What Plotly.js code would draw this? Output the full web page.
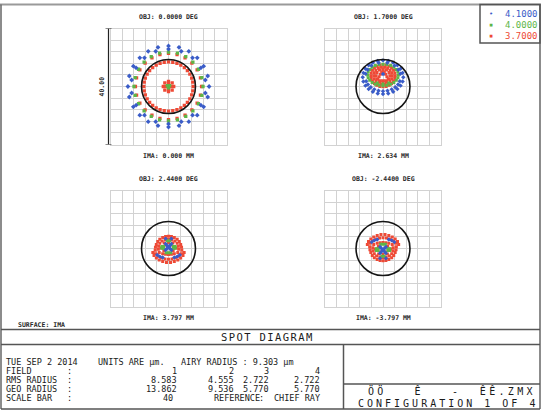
<!DOCTYPE html>
<html><head><meta charset="utf-8">
<script src="https://cdn.plot.ly/plotly-3.0.1.min.js"></script>
<style>html,body{margin:0;padding:0;background:#fff;}#chart{width:541px;height:410px;}</style>
</head><body><div id="chart"></div>
<script>
// ---------- data ----------
const wavelengths = ['4.1000', '4.0000', '3.7000'];
const fieldObj = ['OBJ: 0.0000 DEG', 'OBJ: 1.7000 DEG', 'OBJ: 2.4400 DEG', 'OBJ: -2.4400 DEG'];
const fieldIma = ['IMA: 0.000 MM', 'IMA: 2.634 MM', 'IMA: 3.797 MM', 'IMA: -3.797 MM'];
const fieldNumbers = ['1', '2', '3', '4'];
const rmsRadius = ['8.583', '4.555', '2.722', '2.722'];
const geoRadius = ['13.862', '9.536', '5.770', '5.770'];
const airyRadius = 9.303;
const scaleBar = 40;

// Field 1 (0.0 deg)
const field1BlueX = [14,13.52,12.12,9.9,7,3.62,0,-3.62,-7,-9.9,-12.12,-13.52,-14,-13.52,-12.12,-9.9,-7,-3.62,0,3.62,7,9.9,12.12,13.52,
  12.70,11.17,8.29,4.41,0,-4.41,-8.29,-11.17,-12.70,-12.70,-11.17,-8.29,-4.41,0,4.41,8.29,11.17,12.70];
const field1BlueY = [0,3.62,7,9.9,12.12,13.52,14,13.52,12.12,9.9,7,3.62,0,-3.62,-7,-9.9,-12.12,-13.52,-14,-13.52,-12.12,-9.9,-7,-3.62,
  2.24,6.45,9.88,12.12,12.9,12.12,9.88,6.45,2.24,-2.24,-6.45,-9.88,-12.12,-12.9,-12.12,-9.88,-6.45,-2.24];
const field1GreenX = [11.9,11.49,10.31,8.41,5.95,3.08,0,-3.08,-5.95,-8.41,-10.31,-11.49,-11.9,-11.49,-10.31,-8.41,-5.95,-3.08,0,3.08,5.95,8.41,10.31,11.49,
  0,0.4,-0.4,0];
const field1GreenY = [0,3.08,5.95,8.41,10.31,11.49,11.9,11.49,10.31,8.41,5.95,3.08,0,-3.08,-5.95,-8.41,-10.31,-11.49,-11.9,-11.49,-10.31,-8.41,-5.95,-3.08,
  0,0.3,0.3,-0.5];
const field1RedX = [11.4,11.01,9.87,8.06,5.7,2.95,0,-2.95,-5.7,-8.06,-9.87,-11.01,-11.4,-11.01,-9.87,-8.06,-5.7,-2.95,0,2.95,5.7,8.06,9.87,11.01,
  8.5,8.37,7.99,7.36,6.51,5.46,4.25,2.91,1.48,0,-1.48,-2.91,-4.25,-5.46,-6.51,-7.36,-7.99,-8.37,-8.5,-8.37,-7.99,-7.36,-6.51,-5.46,-4.25,-2.91,-1.48,0,1.48,2.91,4.25,5.46,6.51,7.36,7.99,8.37,
  1.8,1.27,0,-1.27,-1.8,-1.27,0,1.27,1,0,-1,0];
const field1RedY = [0,2.95,5.7,8.06,9.87,11.01,11.4,11.01,9.87,8.06,5.7,2.95,0,-2.95,-5.7,-8.06,-9.87,-11.01,-11.4,-11.01,-9.87,-8.06,-5.7,-2.95,
  0,1.48,2.91,4.25,5.46,6.51,7.36,7.99,8.37,8.5,8.37,7.99,7.36,6.51,5.46,4.25,2.91,1.48,0,-1.48,-2.91,-4.25,-5.46,-6.51,-7.36,-7.99,-8.37,-8.5,-8.37,-7.99,-7.36,-6.51,-5.46,-4.25,-2.91,-1.48,
  0,1.27,1.8,1.27,0,-1.27,-1.8,-1.27,0,1,0,-1];

// Field 2 (1.7 deg)
const field2BlueX = [7.0,6.76,6.06,4.95,3.5,1.81,0,-1.81,-3.5,-4.95,-6.06,-6.76,-7.0,-6.76,-6.06,-4.95,-3.5,-1.81,0,1.81,3.5,4.95,6.06,6.76,
  -5.80,-5.20,-4.24,-3.0,-1.55,0,1.55,3.0,4.24,5.20,5.80,-6.0,6.0,-5.3,5.3,-4.0,4.0,-1.5,1.5,0];
const field2BlueY = [3.2,4.70,6.10,7.30,8.22,8.80,9.0,8.80,8.22,7.30,6.10,4.70,3.2,1.70,0.30,-0.90,-1.82,-2.40,-2.6,-2.40,-1.82,-0.90,0.30,1.70,
  1.81,0.70,-0.25,-0.98,-1.44,-1.6,-1.44,-0.98,-0.25,0.70,1.81,4.4,4.4,5.8,5.8,7.2,7.2,8.2,8.2,4.3];
const field2GreenX = [5.3,5.12,4.59,3.75,2.65,1.37,0,-1.37,-2.65,-3.75,-4.59,-5.12,-5.3,-5.12,-4.59,-3.75,-2.65,-1.37,0,1.37,2.65,3.75,4.59,5.12,-2,0,2];
const field2GreenY = [4.0,4.96,5.85,6.62,7.20,7.57,7.7,7.57,7.20,6.62,5.85,4.96,4.0,3.04,2.15,1.38,0.80,0.43,0.3,0.43,0.80,1.38,2.15,3.04,1.2,0.9,1.2];
const field2RedX = [4.2,4.06,3.64,2.97,2.1,1.09,0,-1.09,-2.1,-2.97,-3.64,-4.06,-4.2,-4.06,-3.64,-2.97,-2.1,-1.09,0,1.09,2.1,2.97,3.64,4.06,
  3.2,3.01,2.45,1.6,0.56,-0.56,-1.6,-2.45,-3.01,-3.2,-3.01,-2.45,-1.6,-0.56,0.56,1.6,2.45,3.01,
  2.4,2.08,1.2,0,-1.2,-2.08,-2.4,-2.08,-1.2,0,1.2,2.08,
  0,-0.45,0.45,-0.9,0.9,-1.35,1.35,-1.8,1.8,-0.9,0,0.9];
const field2RedY = [3.7,4.68,5.6,6.39,6.99,7.37,7.5,7.37,6.99,6.39,5.6,4.68,3.7,2.72,1.8,1.01,0.41,0.03,-0.1,0.03,0.41,1.01,1.8,2.72,
  3.7,4.73,5.63,6.30,6.65,6.65,6.30,5.63,4.73,3.7,2.67,1.77,1.10,0.75,0.75,1.10,1.77,2.67,
  3.7,4.85,5.69,6.0,5.69,4.85,3.7,2.55,1.71,1.4,1.71,2.55,
  5.8,5.0,5.0,4.2,4.2,3.4,3.4,2.6,2.6,2.0,2.0,2.0];

// Field 3 (2.44 deg)
const field3BlueX = [-1.0,1.0,-0.5,0.5,0,-0.5,0.5,-1.0,1.0,-3.9,-3.0,-2.0,2.0,3.0,3.9,-1.0,1.0];
const field3BlueY = [1.6,1.6,1.0,1.0,0.5,0,0,-0.5,-0.5,-2.2,-2.8,-3.1,-3.1,-2.8,-2.2,3.4,3.4];
const field3GreenX = [-2.3,-1.7,-2.3,-1.7,2.3,1.7,2.3,1.7,-0.8,0,0.8,-0.4,0.4];
const field3GreenY = [0.7,0.7,0.1,0.1,0.7,0.7,0.1,0.1,-1.5,-1.5,-1.5,2.7,2.7];
const field3RedX = [-3.0,-2.0,-1.0,0,1.0,2.0,3.0,-3.7,3.7,-4.2,4.2,-4.5,4.5,-4.6,4.6,
  -2.2,-1.1,0,1.1,2.2,-3.0,3.0,-3.4,3.4,-3.5,3.5,
  -1.5,0,1.5,-2.6,2.6,-1.6,1.6,-0.8,0.8,
  -3.2,-2.0,-1.0,0,1.0,2.0,3.2,
  -5.4,-5.0,-4.2,-3.2,-2.0,-0.7,0.7,2.0,3.2,4.2,5.0,5.4,
  -4.5,-3.6,-2.4,-1.2,0,1.2,2.4,3.6,4.5];
const field3RedY = [3.2,3.8,4.1,4.2,4.1,3.8,3.2,2.4,2.4,1.4,1.4,0.4,0.4,-0.6,-0.6,
  2.6,3.0,3.1,3.0,2.6,1.8,1.8,0.8,0.8,-0.3,-0.3,
  1.9,2.1,1.9,0.2,0.2,-0.8,-0.8,1.2,1.2,
  -1.4,-1.8,-2.0,-2.1,-2.0,-1.8,-1.4,
  -1.4,-2.4,-3.3,-4.0,-4.5,-4.8,-4.8,-4.5,-4.0,-3.3,-2.4,-1.4,
  -1.8,-2.7,-3.3,-3.6,-3.7,-3.6,-3.3,-2.7,-1.8];

// Field 4 (-2.44 deg)
const field4BlueX = [-1.0,1.0,-0.5,0.5,0,-0.5,0.5,-1.0,1.0,-3.9,-3.0,-2.0,2.0,3.0,3.9,-1.0,1.0];
const field4BlueY = [-1.6,-1.6,-1.0,-1.0,-0.5,0,0,0.5,0.5,2.2,2.8,3.1,3.1,2.8,2.2,-3.4,-3.4];
const field4GreenX = [-2.3,-1.7,-2.3,-1.7,2.3,1.7,2.3,1.7,-0.8,0,0.8,-0.4,0.4];
const field4GreenY = [-0.7,-0.7,-0.1,-0.1,-0.7,-0.7,-0.1,-0.1,1.5,1.5,1.5,-2.7,-2.7];
const field4RedX = [-3.0,-2.0,-1.0,0,1.0,2.0,3.0,-3.7,3.7,-4.2,4.2,-4.5,4.5,-4.6,4.6,
  -2.2,-1.1,0,1.1,2.2,-3.0,3.0,-3.4,3.4,-3.5,3.5,
  -1.5,0,1.5,-2.6,2.6,-1.6,1.6,-0.8,0.8,
  -3.2,-2.0,-1.0,0,1.0,2.0,3.2,
  -5.4,-5.0,-4.2,-3.2,-2.0,-0.7,0.7,2.0,3.2,4.2,5.0,5.4,
  -4.5,-3.6,-2.4,-1.2,0,1.2,2.4,3.6,4.5];
const field4RedY = [-3.2,-3.8,-4.1,-4.2,-4.1,-3.8,-3.2,-2.4,-2.4,-1.4,-1.4,-0.4,-0.4,0.6,0.6,
  -2.6,-3.0,-3.1,-3.0,-2.6,-1.8,-1.8,-0.8,-0.8,0.3,0.3,
  -1.9,-2.1,-1.9,-0.2,-0.2,0.8,0.8,-1.2,-1.2,
  1.4,1.8,2.0,2.1,2.0,1.8,1.4,
  1.4,2.4,3.3,4.0,4.5,4.8,4.8,4.5,4.0,3.3,2.4,1.4,
  1.8,2.7,3.3,3.6,3.7,3.6,3.3,2.7,1.8];

// ---------- styling / layout ----------
const W = 541, H = 410;
const px = v => v / W;
const py = v => 1 - v / H;
const BLUE = '#3a5cc8', GREEN = '#5db648', RED = '#ee4a36';
const MONO = "'DejaVu Sans Mono', 'Liberation Mono', monospace";

const panels = [
  {x: [110.5, 226.5], y: [28.5, 144.5], blue: [field1BlueX, field1BlueY], green: [field1GreenX, field1GreenY], red: [field1RedX, field1RedY], size: 3.3},
  {x: [325, 441], y: [28.5, 144.5], blue: [field2BlueX, field2BlueY], green: [field2GreenX, field2GreenY], red: [field2RedX, field2RedY], size: 3.0},
  {x: [110.5, 226.5], y: [190.5, 306.5], blue: [field3BlueX, field3BlueY], green: [field3GreenX, field3GreenY], red: [field3RedX, field3RedY], size: 3.0},
  {x: [325, 441], y: [190.5, 306.5], blue: [field4BlueX, field4BlueY], green: [field4GreenX, field4GreenY], red: [field4RedX, field4RedY], size: 3.0}
];

const layout = {
  width: W, height: H, margin: {l: 0, r: 0, t: 0, b: 0},
  paper_bgcolor: '#fff', plot_bgcolor: '#fff', showlegend: false,
  shapes: [], annotations: []
};
const traces = [];

function axisCommon() {
  return {range: [-20, 20], tick0: -20, dtick: 4, showgrid: true, gridcolor: '#d2d2d2', gridwidth: 1,
    zeroline: false, showticklabels: false, ticks: '', showline: true, linecolor: '#d2d2d2',
    linewidth: 1, mirror: true, fixedrange: true};
}

panels.forEach((p, i) => {
  const n = i === 0 ? '' : String(i + 1);
  const xa = 'x' + n, ya = 'y' + n;
  layout['xaxis' + n] = Object.assign(axisCommon(), {domain: [px(p.x[0]), px(p.x[1])], anchor: ya});
  layout['yaxis' + n] = Object.assign(axisCommon(), {domain: [py(p.y[1]), py(p.y[0])], anchor: xa});
  const mk = (xy, col, sym, sz, name) => ({type: 'scatter', mode: 'markers', x: xy[0], y: xy[1], xaxis: xa, yaxis: ya,
    name, hoverinfo: 'skip', marker: {symbol: sym, size: sz, color: col, line: {width: 0}}});
  traces.push(mk(p.red, RED, 'square', p.size, wavelengths[2]));
  traces.push(mk(p.green, GREEN, 'square', p.size, wavelengths[1]));
  traces.push(mk(p.blue, BLUE, 'diamond', p.size + 0.4, wavelengths[0]));
  layout.shapes.push({type: 'circle', xref: xa, yref: ya, x0: -airyRadius, x1: airyRadius, y0: -airyRadius, y1: airyRadius,
    line: {color: '#151515', width: 1.6}, layer: 'above'});
  const cx = (p.x[0] + p.x[1]) / 2;
  layout.annotations.push({xref: 'paper', yref: 'paper', x: px(cx), y: py(p.y[0] - 11.5), text: fieldObj[i], showarrow: false,
    xanchor: 'center', yanchor: 'middle', font: {family: MONO, size: 6.5, color: '#2a2a2a', weight: 'bold'}});
  layout.annotations.push({xref: 'paper', yref: 'paper', x: px(cx), y: py(p.y[1] + 11.5), text: fieldIma[i], showarrow: false,
    xanchor: 'center', yanchor: 'middle', font: {family: MONO, size: 6.5, color: '#2a2a2a', weight: 'bold'}});
});

// scale bar on the first panel
layout.shapes.push({type: 'line', xref: 'paper', yref: 'y', x0: px(108.5), x1: px(108.5), y0: -scaleBar / 2, y1: scaleBar / 2, line: {color: '#222', width: 1.2}});
layout.shapes.push({type: 'line', xref: 'paper', yref: 'y', x0: px(105.5), x1: px(111.5), y0: scaleBar / 2, y1: scaleBar / 2, line: {color: '#222', width: 1.2}});
layout.shapes.push({type: 'line', xref: 'paper', yref: 'y', x0: px(105.5), x1: px(111.5), y0: -scaleBar / 2, y1: -scaleBar / 2, line: {color: '#222', width: 1.2}});
layout.annotations.push({xref: 'paper', yref: 'paper', x: px(102), y: py(86.5), text: scaleBar.toFixed(2), textangle: -90,
  showarrow: false, xanchor: 'center', yanchor: 'middle', font: {family: MONO, size: 6.5, color: '#2a2a2a', weight: 'bold'}});

// frame lines
const line = (x0, y0, x1, y1, col, w) => layout.shapes.push({type: 'line', xref: 'paper', yref: 'paper',
  x0: px(x0), y0: py(y0), x1: px(x1), y1: py(y1), line: {color: col, width: w}});
line(0, 4.5, 541, 4.5, '#9a9a9a', 2);
line(1, 4.5, 1, 409, '#666', 1.5);
line(540, 4.5, 540, 409, '#666', 1.5);
line(1, 409, 540, 409, '#555', 1.5);
line(1, 329.5, 540, 329.5, '#555', 1.5);
line(1, 344.5, 540, 344.5, '#555', 1.5);
line(343.5, 344.5, 343.5, 409, '#555', 1.5);
line(343.5, 384, 540, 384, '#555', 1.5);
// legend box
layout.shapes.push({type: 'rect', xref: 'paper', yref: 'paper', x0: px(480), x1: px(540), y0: py(43), y1: py(4.5),
  line: {color: '#555', width: 1.5}, fillcolor: 'rgba(0,0,0,0)'});
const legCols = [BLUE, GREEN, RED];
const legGlyph = ['\u2022', '\u25AA', '\u25AA'];
wavelengths.forEach((w, k) => {
  const yy = 14 + k * 11;
  layout.annotations.push({xref: 'paper', yref: 'paper', x: px(491), y: py(yy), text: legGlyph[k], showarrow: false,
    xanchor: 'center', yanchor: 'middle', font: {family: MONO, size: 7, color: legCols[k]}});
  layout.annotations.push({xref: 'paper', yref: 'paper', x: px(503), y: py(yy), text: w, showarrow: false,
    xanchor: 'left', yanchor: 'middle', font: {family: MONO, size: 9, color: legCols[k]}});
});

// texts
const txt = (x, y, t, size, anchor, extra) => layout.annotations.push(Object.assign({xref: 'paper', yref: 'paper', x: px(x), y: py(y),
  text: t, showarrow: false, xanchor: anchor, yanchor: 'middle', align: anchor === 'right' ? 'right' : 'left', borderpad: 0,
  font: {family: MONO, size: size, color: '#1a1a1a'}}, extra || {}));
txt(17, 324.5, 'SURFACE: IMA', 6.5, 'left', {font: {family: MONO, size: 6.5, color: '#2a2a2a', weight: 'bold'}});
txt(220, 337, 'SPOT DIAGRAM', 10.5, 'left');
const T = 8.5;
txt(5, 361.5, 'TUE SEP 2 2014', T, 'left');
txt(97, 361.5, 'UNITS ARE \u00B5m.', T, 'left');
txt(180, 361.5, 'AIRY RADIUS : ' + airyRadius.toFixed(3) + ' \u00B5m', T, 'left');
const rowY = [370.5, 379.5, 388.5, 397.5];
const rowLabels = ['FIELD', 'RMS RADIUS', 'GEO RADIUS', 'SCALE BAR'];
rowLabels.forEach((l, r) => { txt(5, rowY[r], l, T, 'left'); txt(66, rowY[r], ':', T, 'left'); });
const colRight = [178, 235, 270, 321];
[fieldNumbers, rmsRadius, geoRadius].forEach((arr, r) => arr.forEach((v, c) => txt(colRight[c], rowY[r], v, T, 'right')));
txt(174, rowY[3], String(scaleBar), T, 'right');
txt(213, rowY[3], 'REFERENCE', T, 'left');
txt(258, rowY[3], ':', T, 'left');
txt(273, rowY[3], 'CHIEF RAY', T, 'left');
txt(367, 391, '\u00D6\u00D6   \u00CA   -  \u00CA\u00CA.ZMX', 10, 'left');
txt(357, 403.5, 'CONFIGURATION 1 OF 4', 10, 'left');

Plotly.newPlot('chart', traces, layout, {staticPlot: true, displayModeBar: false}).then(() => {
  document.querySelectorAll('.annotation-text').forEach(el => {
    const t = el.textContent;
    if (t === 'SPOT DIAGRAM') el.style.letterSpacing = '1.4px';
    if (t.indexOf('CONFIGURATION') === 0) el.style.letterSpacing = '3px';
    if (t.indexOf('ZMX') >= 0) el.style.letterSpacing = '3.3px';
  });
});
</script></body></html>
